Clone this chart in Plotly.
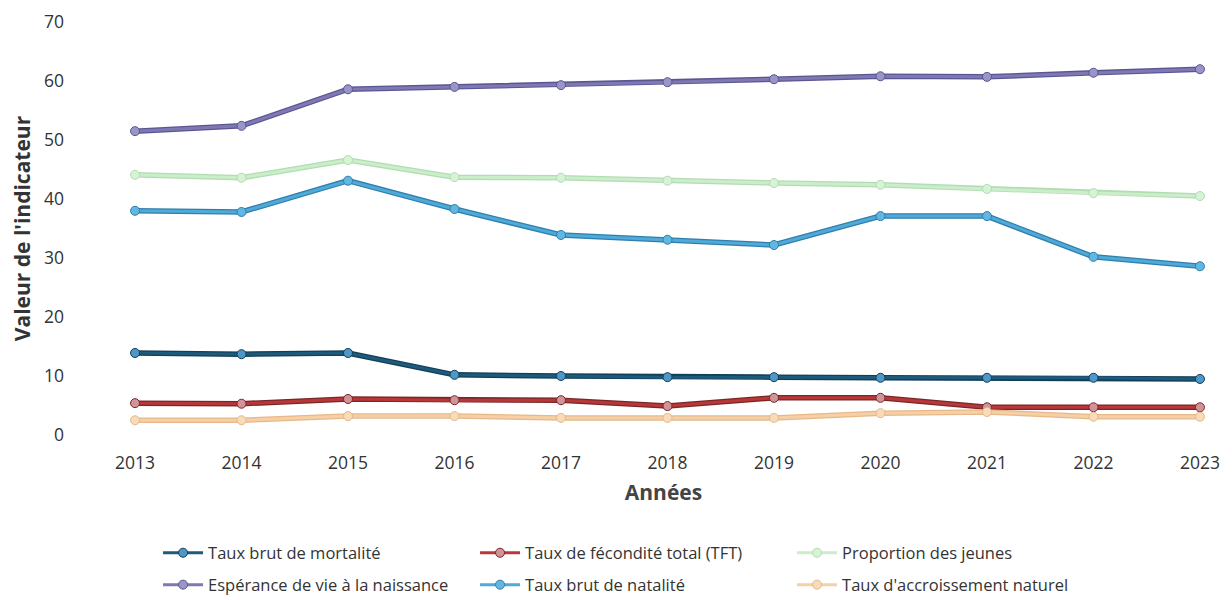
import plotly.graph_objects as go

years = [2013, 2014, 2015, 2016, 2017, 2018, 2019, 2020, 2021, 2022, 2023]

mortalite = [13.9, 13.7, 13.9, 10.2, 10.0, 9.8, 9.8, 9.7, 9.7, 9.7, 9.5]
fecondite = [5.4, 5.3, 6.1, 5.9, 5.9, 4.9, 6.3, 6.3, 4.7, 4.7, 4.7]
jeunes = [44.1, 43.6, 46.6, 43.7, 43.6, 43.1, 42.7, 42.4, 41.7, 41.0, 40.5]
esperance = [51.5, 52.4, 58.6, 59.0, 59.3, 59.8, 60.3, 60.8, 60.7, 61.4, 62.0]
natalite = [38.0, 37.8, 43.1, 38.3, 33.9, 33.1, 32.2, 37.1, 37.1, 30.2, 28.6]
accroissement = [2.5, 2.5, 3.2, 3.2, 2.9, 2.9, 2.9, 3.7, 3.9, 3.1, 3.1]

series = [
    ("Taux brut de mortalité", mortalite, "#1d5b7c", "#123e57", "#4f97c6", "legend"),
    ("Taux de fécondité total (TFT)", fecondite, "#b8383a", "#7a2628", "#cf9499", "legend"),
    ("Proportion des jeunes", jeunes, "#c9eec9", "#b3dcb3", "#d6f3d6", "legend"),
    ("Espérance de vie à la naissance", esperance, "#7e78b4", "#5b5590", "#9a95c8", "legend2"),
    ("Taux brut de natalité", natalite, "#4fa9d9", "#2f7fab", "#62b6e2", "legend2"),
    ("Taux d'accroissement naturel", accroissement, "#f6d0a4", "#e5b98a", "#f8dbb8", "legend2"),
]

fig = go.Figure()
for name, vals, col, dark, mk, lg in series:
    fig.add_trace(go.Scatter(
        x=years, y=vals, mode="lines", showlegend=False, hoverinfo="skip",
        line=dict(color=dark, width=5.5),
    ))
    fig.add_trace(go.Scatter(
        x=years, y=vals, mode="lines+markers", name=name, legend=lg,
        line=dict(color=col, width=3),
        marker=dict(size=9, color=mk, line=dict(color=dark, width=1)),
    ))

legend_common = dict(
    orientation="h", xanchor="left", yanchor="middle",
    entrywidth=262, entrywidthmode="pixels",
    font=dict(size=16.5, color="#333333"), itemwidth=40,
    bgcolor="rgba(0,0,0,0)",
)

fig.update_layout(
    width=1224, height=592,
    paper_bgcolor="white", plot_bgcolor="white",
    margin=dict(l=102, r=15, t=14, b=165, autoexpand=False),
    font=dict(family="Open Sans", size=17, color="#333333"),
    xaxis=dict(
        range=[2012.765, 2023.16], tickmode="array", tickvals=years,
        ticktext=[str(y) for y in years], showgrid=False, zeroline=False,
        showline=False, ticks="", ticklabelstandoff=15,
        tickfont=dict(size=17.5, color="#333333"),
        title=dict(text="<b>Années</b>", font=dict(size=21, color="#444444"), standoff=12),
    ),
    yaxis=dict(
        range=[0, 70], tickvals=[0, 10, 20, 30, 40, 50, 60, 70],
        showgrid=False, zeroline=False, showline=False, ticks="",
        ticklabelstandoff=45, tickfont=dict(size=17.5, color="#333333"),
        title=dict(text="<b>Valeur de l'indicateur</b>", font=dict(size=21, color="#333333"), standoff=14),
    ),
    legend=dict(x=0.0434, y=-0.2857, **legend_common),
    legend2=dict(x=0.0434, y=-0.363, **legend_common),
)

fig.write_html("out.html")
